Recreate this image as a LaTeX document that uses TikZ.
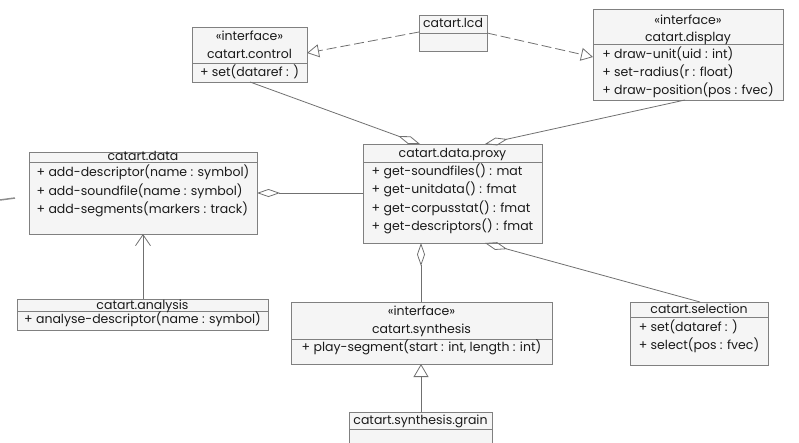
\documentclass[tikz,border=0pt]{standalone}
\usepackage{fontspec}
\setmainfont{Poppins}
\usetikzlibrary{arrows.meta}
\definecolor{boxc}{HTML}{F5F5F5}
\definecolor{bordc}{HTML}{808080}
\definecolor{linec}{HTML}{707070}
\definecolor{txtc}{HTML}{1A1A1A}
\tikzset{
  box/.style={draw=bordc, fill=boxc, line width=0.9pt, inner sep=0pt, outer sep=0pt, anchor=north west},
  divl/.style={draw=bordc, line width=0.9pt},
  hdr/.style={inner sep=0pt, text=txtc, font=\fontsize{12.5}{18}\selectfont},
  mem/.style={inner sep=0pt, text=txtc, align=left, font=\fontsize{12.5}{18.3}\selectfont},
  conn/.style={draw=linec, line width=0.8pt},
  aggr/.style={conn, -{Diamond[open, length=23pt, width=8pt]}},
  realz/.style={conn, dash pattern=on 10pt off 4pt, -{Triangle[open, length=12pt, width=13pt]}},
  inher/.style={conn, -{Triangle[open, length=13pt, width=15pt]}},
  assoc/.style={conn, -{Straight Barb[length=11pt, width=15pt]}},
  stray/.style={draw=linec!80, line width=1.5pt}
}
\newcommand{\sr}{\strut}
\begin{document}
\begin{tikzpicture}[x=1pt, y=-1pt]
\useasboundingbox (0,0) rectangle (799,442);
\clip (0,0) rectangle (799,442);

% control
\node[box, minimum width=115pt, minimum height=55pt] (ctl) at (192,27) {};
\draw[divl] ([yshift=-36pt]ctl.north west) -- ([yshift=-36pt]ctl.north east);
\node[hdr] (ctl-s) at (249.5,37) {\sr«interface»};
\node[hdr] (ctl-n) at (249.5,55) {\sr catart.control};
\node[mem] (ctl-m) at (249.5,73) {\sr+ set(dataref : )};

% lcd
\node[box, minimum width=68pt, minimum height=36pt] (lcd) at (419,15) {};
\draw[divl] ([yshift=-18pt]lcd.north west) -- ([yshift=-18pt]lcd.north east);
\node[hdr] (lcd-n) at (453,24) {\sr catart.lcd};

% display
\node[box, minimum width=190pt, minimum height=91pt] (dsp) at (593,9) {};
\draw[divl] ([yshift=-35pt]dsp.north west) -- ([yshift=-35pt]dsp.north east);
\node[hdr] (dsp-s) at (688,20.5) {\sr«interface»};
\node[hdr] (dsp-n) at (688,37.5) {\sr catart.display};
\node[mem] (dsp-m) at (688,73) {\sr+ draw-unit(uid : int)\\\sr+ set-radius(r : float)\\\sr+ draw-position(pos : fvec)};

% data
\node[box, minimum width=228pt, minimum height=81.5pt] (dat) at (29,152.5) {};
\draw[divl] ([yshift=-10pt]dat.north west) -- ([yshift=-10pt]dat.north east);
\node[hdr] (dat-n) at (143,157) {\sr catart.data};
\node[mem] (dat-m) at (143,191.5) {\sr+ add-descriptor(name : symbol)\\\sr+ add-soundfile(name : symbol)\\\sr+ add-segments(markers : track)};

% proxy
\node[box, minimum width=179pt, minimum height=99pt] (prx) at (363,144) {};
\draw[divl] ([yshift=-18pt]prx.north west) -- ([yshift=-18pt]prx.north east);
\node[hdr] (prx-n) at (452.5,154) {\sr catart.data.proxy};
\node[mem] (prx-m) at (452.5,199.3) {\sr+ get-soundfiles() : mat\\\sr+ get-unitdata() : fmat\\\sr+ get-corpusstat() : fmat\\\sr+ get-descriptors() : fmat};

% analysis
\node[box, minimum width=251pt, minimum height=31pt] (ana) at (17,299) {};
\draw[divl] ([yshift=-12pt]ana.north west) -- ([yshift=-12pt]ana.north east);
\node[hdr] (ana-n) at (142.5,305.5) {\sr catart.analysis};
\node[mem] (ana-m) at (142.5,319.5) {\sr+ analyse-descriptor(name : symbol)};

% synthesis
\node[box, minimum width=261pt, minimum height=62pt] (syn) at (291,302) {};
\draw[divl] ([yshift=-37pt]syn.north west) -- ([yshift=-37pt]syn.north east);
\node[hdr] (syn-s) at (421.5,312) {\sr«interface»};
\node[hdr] (syn-n) at (421.5,330) {\sr catart.synthesis};
\node[mem] (syn-m) at (421.5,348) {\sr+ play-segment(start : int, length : int)};

% grain
\node[box, minimum width=143pt, minimum height=50pt] (grn) at (349,412) {};
\draw[divl] ([yshift=-17pt]grn.north west) -- ([yshift=-17pt]grn.north east);
\node[hdr] (grn-n) at (420.5,420.5) {\sr catart.synthesis.grain};

% selection
\node[box, minimum width=138pt, minimum height=63pt] (sel) at (630,302) {};
\draw[divl] ([yshift=-15pt]sel.north west) -- ([yshift=-15pt]sel.north east);
\node[hdr] (sel-n) at (699,310) {\sr catart.selection};
\node[mem] (sel-m) at (699,337) {\sr+ set(dataref : )\\\sr+ select(pos : fvec)};

% connectors
\draw[realz] ([yshift=-17pt]lcd.north west) -- ([yshift=-26pt]ctl.north east);
\draw[realz] ([yshift=-18pt]lcd.north east) -- ([yshift=-48pt]dsp.north west);
\draw[aggr] ([xshift=58pt]ctl.south west) -- ([xshift=57pt]prx.north west);
\draw[aggr] ([xshift=92pt]dsp.south west) -- ([xshift=122pt]prx.north west);
\draw[aggr] ([yshift=-49pt]prx.north west) -- ([yshift=-40.5pt]dat.north east);
\draw[aggr] ([xshift=130pt]syn.north west) -- ([xshift=58pt]prx.south west);
\draw[aggr] ([xshift=70pt]sel.north west) -- ([xshift=122pt]prx.south west);
\draw[assoc] ([xshift=126pt]ana.north west) -- ([xshift=114pt]dat.south west);
\draw[inher] ([xshift=72pt]grn.north west) -- ([xshift=130pt]syn.south west);

% stray fragment at left edge
\coordinate (st1) at (0,200);
\coordinate (st2) at (15,198);
\draw[stray] (st1) -- (st2);
\end{tikzpicture}
\end{document}
